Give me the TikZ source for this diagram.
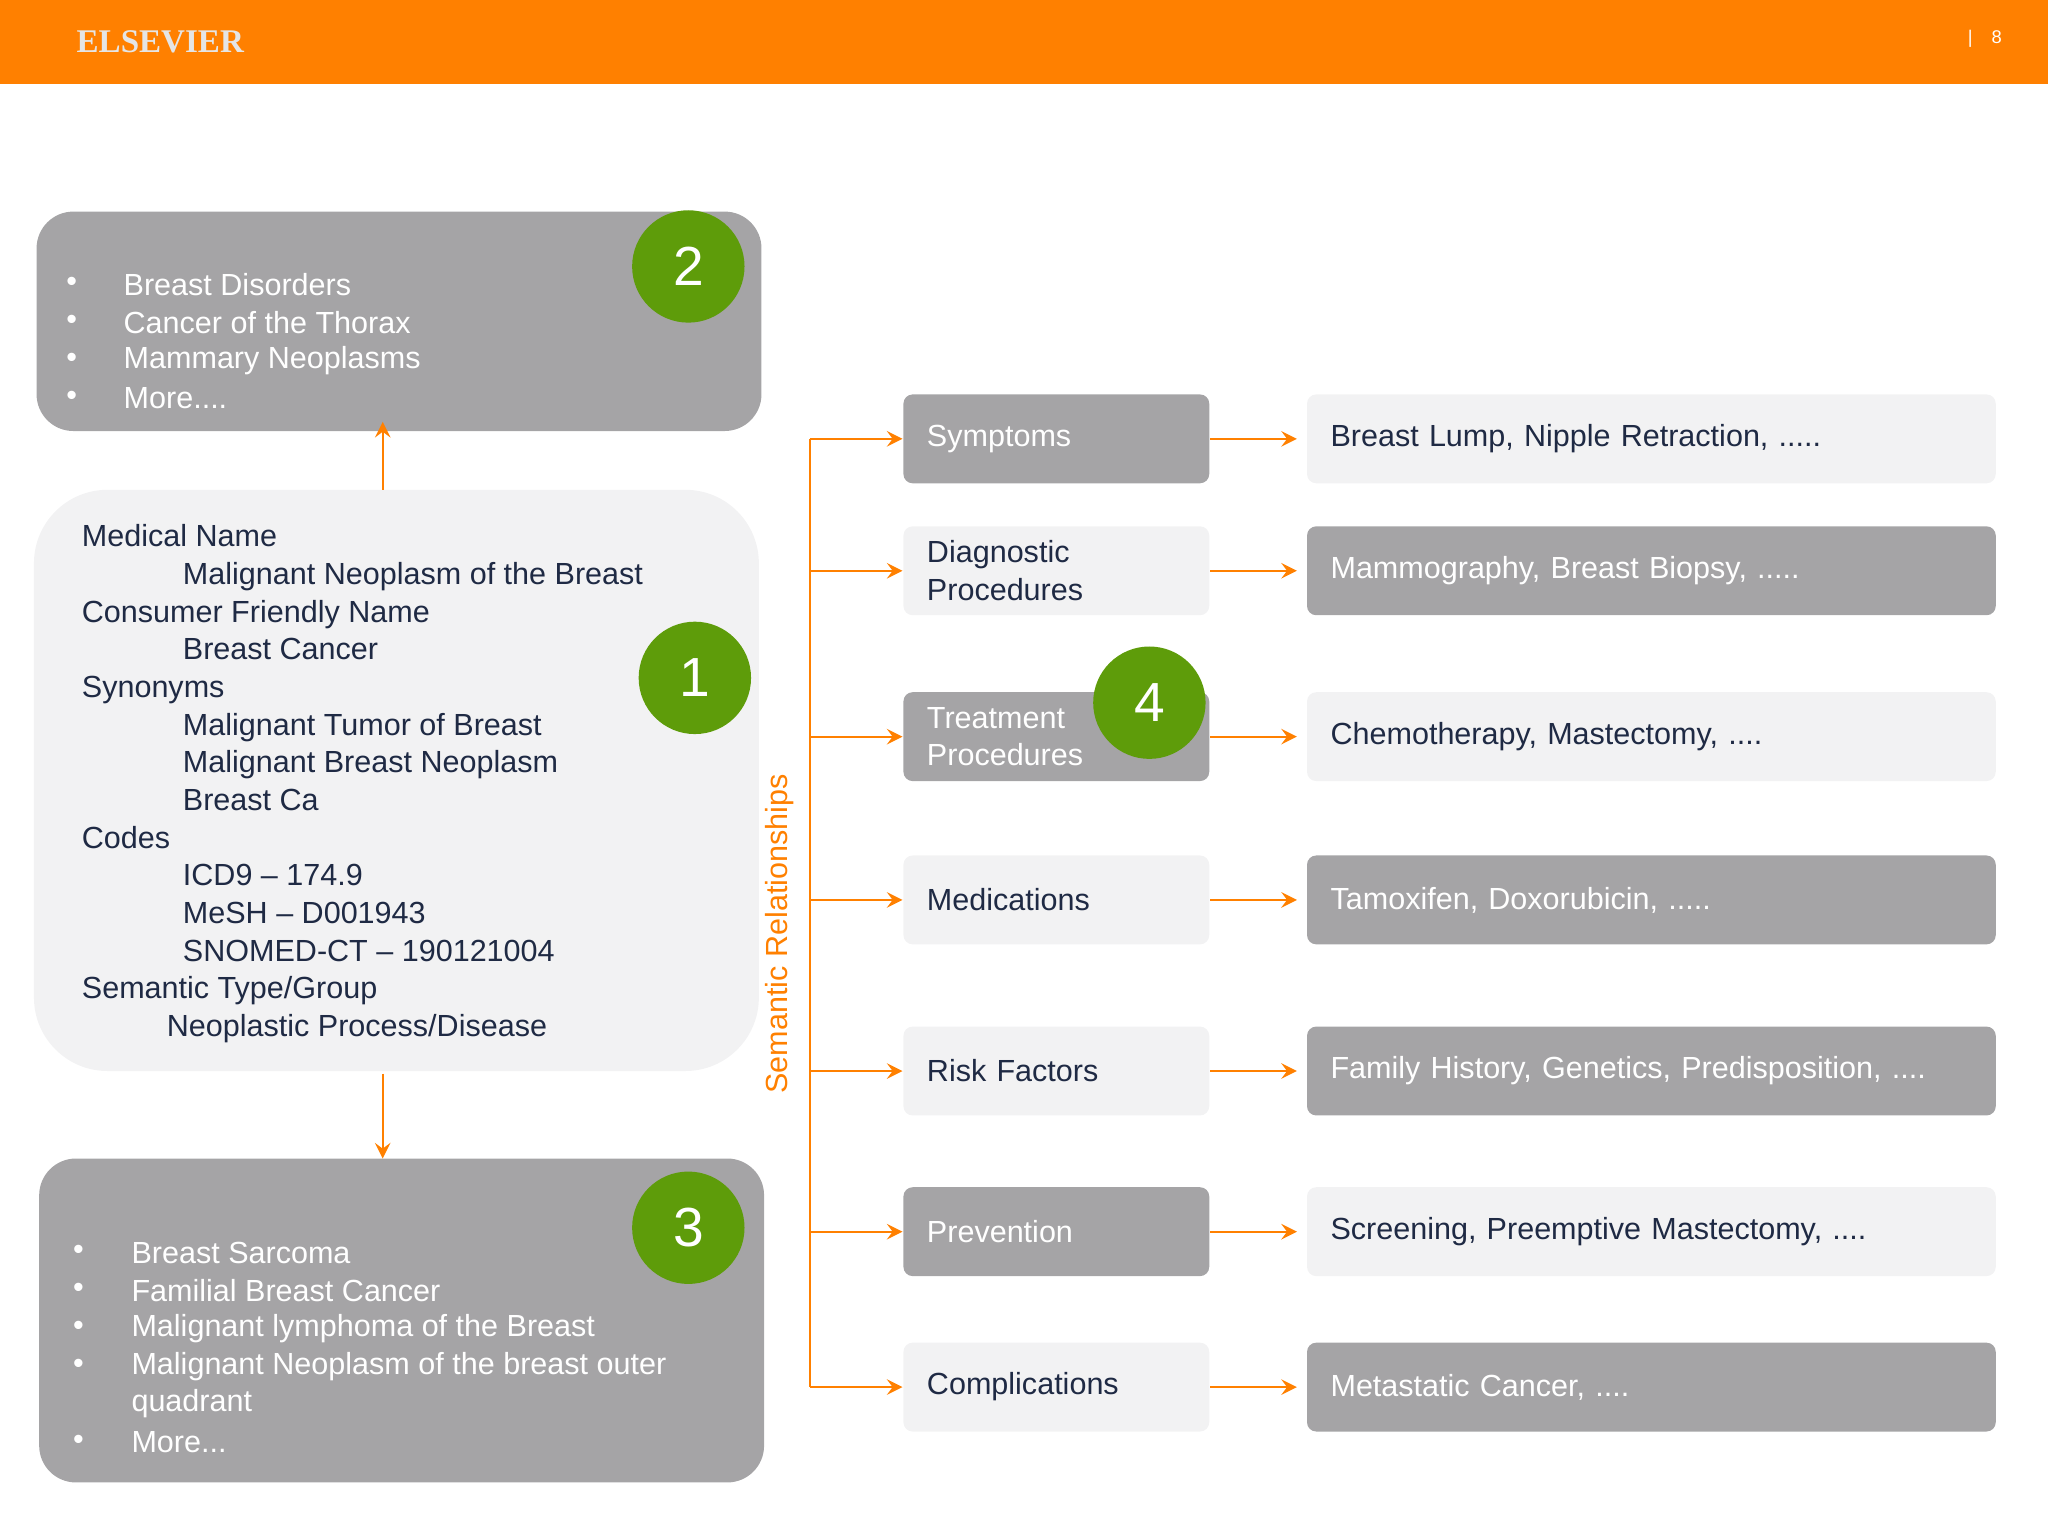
\documentclass[tikz,border=0pt]{standalone}
\usepackage{fontspec}
\setmainfont{Liberation Sans}
\newfontfamily\logofont{Liberation Serif}
\usetikzlibrary{positioning}
\definecolor{elsorange}{HTML}{FF8000}
\definecolor{boxgray}{HTML}{A5A4A6}
\definecolor{boxlight}{HTML}{F2F2F3}
\definecolor{badge}{HTML}{5E9C0A}
\definecolor{inkdark}{HTML}{1F2A44}
\newcommand\dotsthree{...}
\newcommand\dotsfour{....}
\newcommand\dotsfive{.....}
\tikzset{
  dark/.style={fill=boxgray, text=white},
  light/.style={fill=boxlight, text=inkdark},
  tag/.style={rounded corners=2pt, minimum height=0.68cm, inner ysep=0pt, inner xsep=0.18cm, anchor=west, text width=#1, align=left},
  badgenode/.style={circle, fill=badge, minimum size=0.86cm, inner sep=0pt, text=white, font=\fontsize{12pt}{12pt}\selectfont},
  link/.style={draw=elsorange, line width=0.5pt, ->, >=stealth},
}
\begin{document}
\begin{tikzpicture}[x=0.01cm, y=-0.01cm, font=\fontsize{6.65pt}{8.2pt}\selectfont]
\useasboundingbox (0,0) rectangle (1568,1176);
% Header band
\fill[elsorange] (0,0) rectangle (1568,64);
\node[text=white!80!gray, font=\logofont\fontsize{7.2pt}{7.2pt}\selectfont\bfseries, anchor=west, inner sep=0pt] (logo) at (58,32) {ELSEVIER};
\node[text=white, font=\fontsize{4pt}{4pt}\selectfont, anchor=east] (page) at (1545,30) {|\hspace{3pt} 8};
% Box 2: broader terms
\fill[boxgray, rounded corners=8pt] (28,162) rectangle (583,330);
\foreach \t [count=\i] in {Breast Disorders, Cancer of the Thorax, Mammary Neoplasms, More\dotsfour}
{
  \node[text=white, anchor=west, inner sep=0pt] (b2t\i) at (94,189+29*\i) {\t};
  \node[text=white, anchor=center] at (55,189+29*\i) {\textbullet};
}
\node[badgenode] (c2) at (527,204) {2};
% Box 1: the concept
\fill[boxlight, rounded corners=16pt] (26,375) rectangle (581,820);
\node[text=inkdark, anchor=north west, align=left, inner sep=0pt] (b1) at (62,401) {%
Medical Name\\
\hspace*{22pt}Malignant Neoplasm of the Breast\\
Consumer Friendly Name\\
\hspace*{22pt}Breast Cancer\\
Synonyms\\
\hspace*{22pt}Malignant Tumor of Breast\\
\hspace*{22pt}Malignant Breast Neoplasm\\
\hspace*{22pt}Breast Ca\\
Codes\\
\hspace*{22pt}ICD9 -- 174.9\\
\hspace*{22pt}MeSH -- D001943\\
\hspace*{22pt}SNOMED-CT -- 190121004\\
Semantic Type/Group\\
\hspace*{18.5pt}Neoplastic Process/Disease};
\node[badgenode] (c1) at (532,519) {1};
% Box 3: narrower terms
\fill[boxgray, rounded corners=8pt] (30,887) rectangle (585,1135);
\foreach \t/\y [count=\i] in {Breast Sarcoma/959, Familial Breast Cancer/988, Malignant lymphoma of the Breast/1017, Malignant Neoplasm of the breast outer/1046, More\dotsthree/1104}
{
  \node[text=white, anchor=west, inner sep=0pt] (b3t\i) at (100,\y) {\t};
  \node[text=white, anchor=center] at (60,\y) {\textbullet};
}
\node[text=white, anchor=west, inner sep=0pt] (b3q) at (100,1075) {quadrant};
\node[badgenode] (c3) at (527,940) {3};
% Up and down links
\coordinate (b1top) at (293,375);
\coordinate (b2bot) at (293,323);
\coordinate (b1bot) at (293,822);
\coordinate (b3top) at (293,887);
\draw[link] (b1top) -- (b2bot);
\draw[link] (b1bot) -- (b3top);
% Semantic relationships spine
\coordinate (spinetop) at (620,336);
\coordinate (spinebot) at (620,1062);
\draw[elsorange, line width=0.5pt] (spinetop) -- (spinebot);
\node[text=elsorange, rotate=90] (semrel) at (597,715) {Semantic Relationships};
% Relationship rows
\foreach \rel/\val/\y/\ms/\vs [count=\i] in {
  {Symptoms}/{Breast Lump, Nipple Retraction, \dotsfive}/336/dark/light,
  {Diagnostic\\Procedures}/{Mammography, Breast Biopsy, \dotsfive}/437/light/dark,
  {Treatment\\Procedures}/{Chemotherapy, Mastectomy, \dotsfour}/564/dark/light,
  {Medications}/{Tamoxifen, Doxorubicin, \dotsfive}/689/light/dark,
  {Risk Factors}/{Family History, Genetics, Predisposition, \dotsfour}/820/light/dark,
  {Prevention}/{Screening, Preemptive Mastectomy, \dotsfour}/943/dark/light,
  {Complications}/{Metastatic Cancer, \dotsfour}/1062/light/dark}
{
  \coordinate (s\i) at (620,\y);
  \node[tag=1.98cm, \ms] (r\i) at (691,\y) {\rel};
  \node[tag=4.91cm, \vs] (v\i) at (1000,\y) {\val};
  \draw[link] (s\i) -- (r\i.west);
  \draw[link] (r\i.east) -- ([xshift=-2pt]v\i.west);
}
\node[badgenode] (c4) at (880,538) {4};
\end{tikzpicture}
\end{document}
